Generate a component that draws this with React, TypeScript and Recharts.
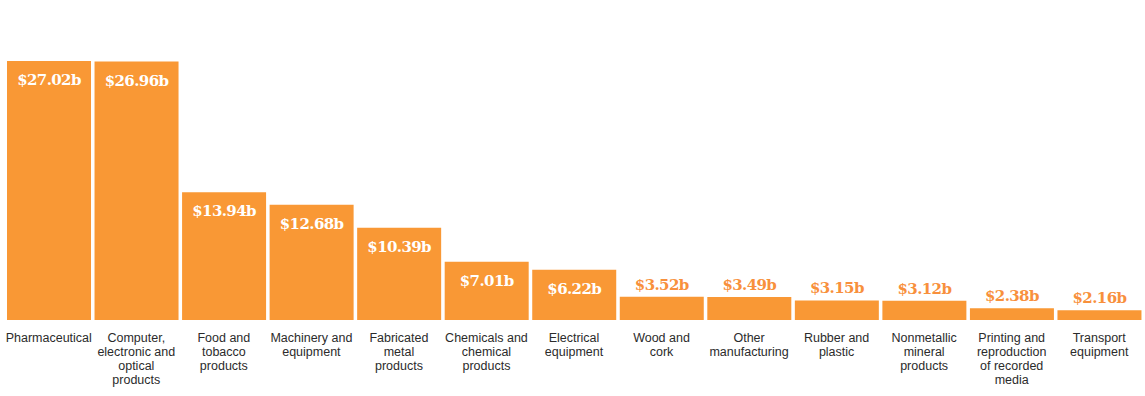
import React from 'react';
import { BarChart, Bar, XAxis, YAxis, LabelList } from 'recharts';

const categories: string[] = [
  'Pharmaceutical',
  'Computer,\nelectronic and\noptical\nproducts',
  'Food and\ntobacco\nproducts',
  'Machinery and\nequipment',
  'Fabricated\nmetal\nproducts',
  'Chemicals and\nchemical\nproducts',
  'Electrical\nequipment',
  'Wood and\ncork',
  'Other\nmanufacturing',
  'Rubber and\nplastic',
  'Nonmetallic\nmineral\nproducts',
  'Printing and\nreproduction\nof recorded\nmedia',
  'Transport\nequipment',
];

const values: number[] = [27.02, 26.96, 13.94, 12.68, 10.39, 7.01, 6.22, 3.52, 3.49, 3.15, 3.12, 2.38, 2.16];

const data = categories.map((c, i) => ({ name: c, value: values[i] }));

const BAR = '#F99835';
const LABEL_OUT = '#F8903C';

const Tick = (props: any) => {
  const { x, y, payload } = props;
  const lines = String(payload.value).split('\n');
  return (
    <text x={x} y={y} textAnchor="middle" fill="#2b2b2b" fontSize={12.5} fontFamily="'Liberation Sans', Arial, sans-serif">
      {lines.map((l, i) => (
        <tspan key={i} x={x} dy={i === 0 ? 22 : 14}>
          {l}
        </tspan>
      ))}
    </text>
  );
};

const ValueLabel = (props: any) => {
  const { x, y, width, value } = props;
  const inside = value > 5;
  return (
    <text
      x={x + width / 2}
      y={inside ? y + 24 : y - 7}
      textAnchor="middle"
      fill={inside ? '#ffffff' : LABEL_OUT}
      fontSize={15}
      fontWeight="bold"
      fontFamily="'DejaVu Serif', Georgia, serif"
      letterSpacing={-0.6}
    >
      {`$${value.toFixed(2)}b`}
    </text>
  );
};

export default function App() {
  return (
    <div style={{ position: 'absolute', left: 0, top: 0, background: '#fff' }}>
      <BarChart
        width={1145}
        height={396}
        data={data}
        margin={{ top: 61, right: 2, bottom: 0, left: 5 }}
        barCategoryGap={2}
      >
        <XAxis
          dataKey="name"
          axisLine={false}
          tickLine={false}
          tickSize={0}
          tickMargin={0}
          interval={0}
          height={76}
          tick={<Tick />}
        />
        <YAxis hide domain={[1.2, 27.02]} allowDataOverflow />
        <Bar dataKey="value" fill={BAR} isAnimationActive={false}>
          <LabelList dataKey="value" content={<ValueLabel />} />
        </Bar>
      </BarChart>
    </div>
  );
}
